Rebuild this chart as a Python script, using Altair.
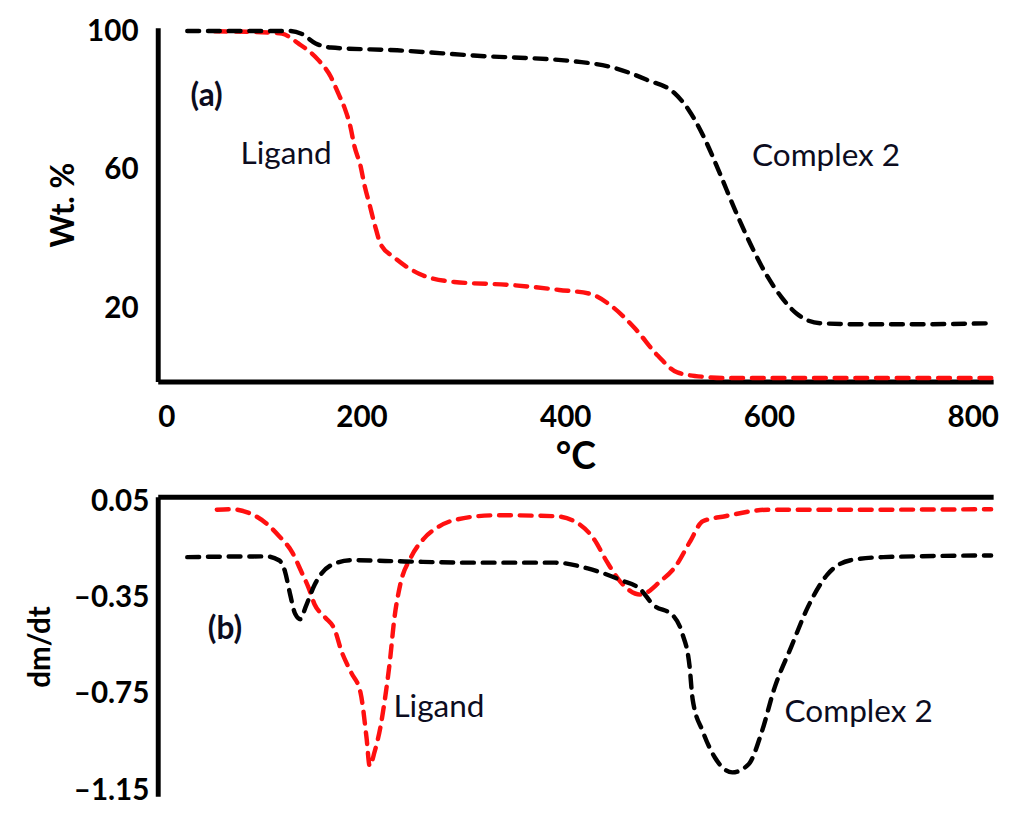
import altair as alt
import pandas as pd

# ---------------- data ----------------
# (a) TGA, weight %
tga_lig_t = [56, 112, 122, 138, 158, 170, 177, 184, 189, 193, 199, 203, 208, 213, 219, 232, 257, 291, 348, 394, 424, 446, 469, 491, 510, 537, 555, 600, 700, 819]
tga_lig_w = [100.0, 99.6, 99.3, 96.5, 91.6, 86.8, 82.2, 77.4, 72.6, 66.9, 61.2, 55.5, 49.9, 44.2, 38.5, 34.8, 30.0, 27.7, 26.8, 25.4, 24.3, 20.6, 14.1, 6.4, 1.6, 0.3, 0.0, 0.0, 0.0, 0.0]

tga_cx_t = [29, 129, 141, 155, 170, 235, 310, 416, 446, 480, 507, 521, 537, 551, 567, 582, 597, 612, 627, 650, 688, 744, 819]
tga_cx_w = [100.1, 100.1, 99.3, 96.5, 95.3, 94.5, 93.0, 91.1, 89.6, 86.0, 82.2, 77.4, 68.9, 59.5, 48.2, 38.5, 30.0, 23.4, 18.6, 15.8, 15.5, 15.5, 15.8]

# (b) DTG, dm/dt
dtg_lig_t = [58, 71, 90, 106, 119, 132, 141, 148, 154, 164, 174, 180, 190, 199, 205, 208, 213, 219, 223, 228, 232, 238, 248, 261, 274, 293, 332, 390, 409, 428, 441, 454, 474, 493, 509, 522, 535, 557, 599, 680, 818]
dtg_lig_v = [0.016, 0.018, 0.002, -0.039, -0.093, -0.161, -0.242, -0.308, -0.378, -0.430, -0.486, -0.568, -0.662, -0.744, -0.934, -1.049, -0.988, -0.878, -0.771, -0.608, -0.445, -0.296, -0.186, -0.105, -0.059, -0.025, -0.007, -0.011, -0.032, -0.105, -0.201, -0.283, -0.337, -0.283, -0.215, -0.120, -0.032, -0.011, 0.016, 0.016, 0.018]

dtg_cx_t = [29, 106, 119, 125, 130, 135, 140, 145, 154, 170, 190, 242, 303, 390, 422, 454, 474, 486, 506, 515, 522, 525, 535, 547, 564, 580, 593, 605, 622, 638, 657, 680, 712, 818]
dtg_cx_v = [-0.181, -0.178, -0.194, -0.242, -0.337, -0.418, -0.439, -0.390, -0.296, -0.215, -0.194, -0.199, -0.204, -0.204, -0.228, -0.276, -0.316, -0.378, -0.425, -0.500, -0.634, -0.771, -0.906, -1.015, -1.076, -1.042, -0.906, -0.730, -0.552, -0.390, -0.255, -0.194, -0.181, -0.174]

series_names = ["Ligand", "Complex 2"]
series_colors = ["#ff1010", "#000000"]

# annotations
top_tag = ["(a)"]
top_tag_x = [48]
top_tag_y = [81.4]
top_text = ["Ligand", "Complex 2"]
top_text_x = [126, 656]
top_text_y = [64.6, 64.1]
bot_tag = ["(b)"]
bot_tag_x = [66]
bot_tag_y = [-0.479]
bot_text = ["Ligand", "Complex 2"]
bot_text_x = [276, 688]
bot_text_y = [-0.805, -0.825]

FONT = "Lato"
X_DOMAIN = [0, 820]
W = 848
TICK_FS = 30


def frame(ts, vs, name):
    return pd.DataFrame({"t": ts, "v": vs, "s": name, "i": range(len(ts))})


tga = pd.concat([frame(tga_lig_t, tga_lig_w, "Ligand"), frame(tga_cx_t, tga_cx_w, "Complex 2")])
dtg = pd.concat([frame(dtg_lig_t, dtg_lig_v, "Ligand"), frame(dtg_cx_t, dtg_cx_v, "Complex 2")])

color = alt.Color("s:N", scale=alt.Scale(domain=series_names, range=series_colors), legend=None)


def text_layer(labels, xs, ys, weight, size):
    df = pd.DataFrame({"label": labels, "t": xs, "v": ys})
    return alt.Chart(df).mark_text(font=FONT, fontSize=size, fontWeight=weight, color="#0c0c1e",
                                   align="center", baseline="middle").encode(
        x=alt.X("t:Q"), y=alt.Y("v:Q"), text="label:N")


def dashed(df, x, y):
    return alt.Chart(df).mark_line(strokeWidth=4.5, strokeDash=[12, 9], strokeCap="round",
                                   interpolate="monotone").encode(
        x=x, y=y, color=color, detail="s:N", order="i:Q")


# ---------------- top panel ----------------
xt = alt.X("t:Q", scale=alt.Scale(domain=X_DOMAIN, nice=False, zero=False),
           axis=alt.Axis(values=[0, 200, 400, 600, 800], title="°C", orient="bottom",
                         ticks=False, tickSize=0, grid=False, labelPadding=22, titlePadding=6,
                         domainWidth=5, domainColor="black", labelFontSize=TICK_FS, labelFontWeight="bold",
                         labelFont=FONT, titleFont=FONT, titleFontSize=38, titleFontWeight="bold",
                         labelColor="black", titleColor="black"))
yt = alt.Y("v:Q", scale=alt.Scale(domain=[-1, 101], nice=False, zero=False),
           axis=alt.Axis(values=[20, 60, 100], title="Wt. %", ticks=False, tickSize=0, grid=False,
                         labelPadding=20, titlePadding=6, domainWidth=5, domainColor="black",
                         labelFontSize=TICK_FS, labelFontWeight="bold", labelFont=FONT,
                         titleFont=FONT, titleFontSize=32, titleFontWeight="bold",
                         labelColor="black", titleColor="black"))

top = alt.layer(dashed(tga, xt, yt),
                text_layer(top_tag, top_tag_x, top_tag_y, "bold", 32),
                text_layer(top_text, top_text_x, top_text_y, "normal", 32)).properties(width=W, height=359)

# ---------------- bottom panel ----------------
xb = alt.X("t:Q", scale=alt.Scale(domain=X_DOMAIN, nice=False, zero=False),
           axis=alt.Axis(orient="top", labels=False, ticks=False, tickSize=0, grid=False, title=None,
                         domainWidth=5, domainColor="black"))
yb = alt.Y("v:Q", scale=alt.Scale(domain=[-1.175, 0.07], nice=False, zero=False),
           axis=alt.Axis(values=[0.05, -0.35, -0.75, -1.15],
                         labelExpr="(datum.value < 0 ? '\u2013' : '') + format(abs(datum.value), '.2f')",
                         title="dm/dt",
                         ticks=False, tickSize=0, grid=False, labelPadding=9, titlePadding=18,
                         domainWidth=5, domainColor="black", labelFontSize=TICK_FS, labelFontWeight="bold",
                         labelFont=FONT, titleFont=FONT, titleFontSize=30, titleFontWeight="bold",
                         labelColor="black", titleColor="black"))

bottom = alt.layer(dashed(dtg, xb, yb),
                   text_layer(bot_tag, bot_tag_x, bot_tag_y, "bold", 32),
                   text_layer(bot_text, bot_text_x, bot_text_y, "normal", 32)).properties(width=W, height=304)

chart = alt.vconcat(top, bottom, spacing=10).configure_view(stroke=None).properties(
    padding={"left": 18, "top": 2, "right": 2, "bottom": 6}, background="white")

chart.save("out.html", embed_options={"renderer": "svg", "actions": False})
